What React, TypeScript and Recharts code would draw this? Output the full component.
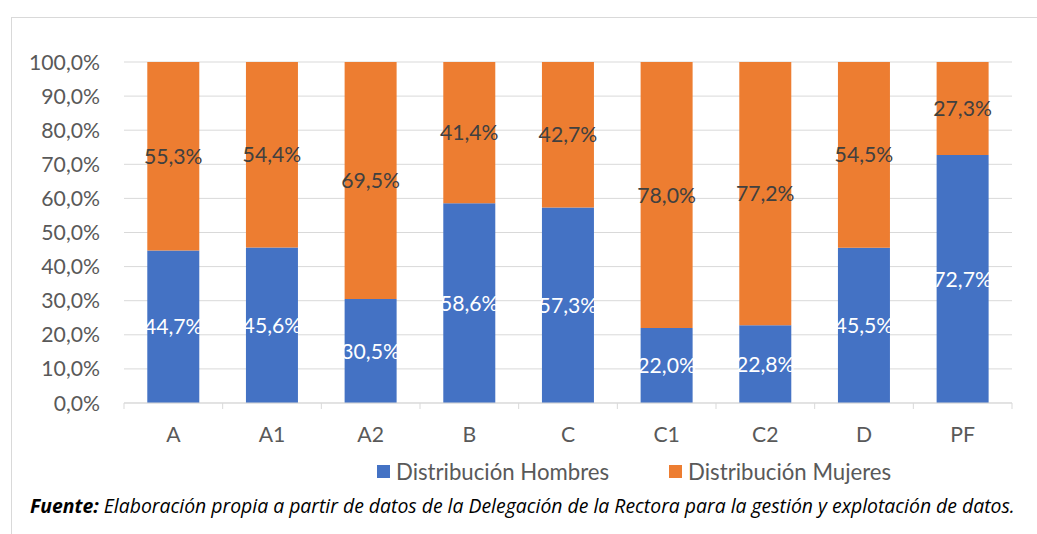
import React from 'react';
import { BarChart, Bar, XAxis, YAxis, CartesianGrid, Legend, LabelList } from 'recharts';

const categories = ['A', 'A1', 'A2', 'B', 'C', 'C1', 'C2', 'D', 'PF'];
const hombres = [44.7, 45.6, 30.5, 58.6, 57.3, 22.0, 22.8, 45.5, 72.7];
const mujeres = [55.3, 54.4, 69.5, 41.4, 42.7, 78.0, 77.2, 54.5, 27.3];
const yTicks = [0, 10, 20, 30, 40, 50, 60, 70, 80, 90, 100];
const seriesNames = ['Distribución Hombres', 'Distribución Mujeres'];
const colors = ['#4472C4', '#ED7D31'];

const data = categories.map((c, i) => ({ cat: c, h: hombres[i], m: mujeres[i] }));

const FONT = 'Lato, "Open Sans", sans-serif';
const fmt = (v: any) => Number(v).toFixed(1).replace('.', ',') + '%';

const XTick = (props: any) => {
  const { x, y, payload, index, visibleTicksCount } = props;
  const off = payload.offset || 0;
  const isLast = index === visibleTicksCount - 1;
  return (
    <g>
      <line x1={x - off} x2={x - off} y1={y - 8} y2={y - 2} stroke="#d9d9d9" strokeWidth={1} />
      {isLast && <line x1={x + off} x2={x + off} y1={y - 8} y2={y - 2} stroke="#d9d9d9" strokeWidth={1} />}
      <text x={x} y={y + 31} textAnchor="middle" fill="#595959" fontSize={21.2} fontFamily={FONT}>
        {payload.value}
      </text>
    </g>
  );
};

const LegendContent = () => (
  <div style={{ display: 'flex', fontFamily: FONT, fontSize: 22.2, color: '#595959', alignItems: 'center' }}>
    {seriesNames.map((n, i) => (
      <div key={n} style={{ display: 'flex', alignItems: 'center', marginRight: i === 0 ? 60 : 0 }}>
        <div style={{ width: 13, height: 13, background: colors[i], marginRight: 6 }} />
        <span>{n}</span>
      </div>
    ))}
  </div>
);

export default function App() {
  return (
    <div style={{ position: 'absolute', left: 0, top: 0, width: 1037, height: 534, background: '#fff', overflow: 'hidden' }}>
      <div style={{ position: 'absolute', left: 11, top: 17, width: 1030, height: 530, borderLeft: '1px solid #d9d9d9', borderTop: '1px solid #d9d9d9' }} />
      <div style={{ position: 'absolute', left: 0, top: 0 }}>
        <BarChart
          width={1037}
          height={534}
          data={data}
          margin={{ top: 62, right: 25, left: 0, bottom: 64 }}
          barCategoryGap="23.6%"
        >
          <CartesianGrid vertical={false} stroke="#d9d9d9" strokeWidth={1} />
          <XAxis
            dataKey="cat"
            axisLine={{ stroke: '#d9d9d9' }}
            tickLine={false}
            tick={<XTick />}
            interval={0}
            height={40}
          />
          <YAxis
            width={124}
            domain={[0, 100]}
            ticks={yTicks}
            axisLine={false}
            tickLine={false}
            tickMargin={18}
            tickFormatter={fmt}
            tick={{ fill: '#595959', fontSize: 21.2, fontFamily: FONT }}
            interval={0}
          />
          <Legend
            verticalAlign="bottom"
            content={<LegendContent />}
            wrapperStyle={{ left: 377, top: 458, width: 600, bottom: 'auto' }}
          />
          <Bar dataKey="h" name={seriesNames[0]} stackId="s" fill={colors[0]} isAnimationActive={false}>
            <LabelList dataKey="h" position="center" formatter={fmt} fill="#ffffff" fontSize={21.2} fontFamily={FONT} />
          </Bar>
          <Bar dataKey="m" name={seriesNames[1]} stackId="s" fill={colors[1]} isAnimationActive={false}>
            <LabelList dataKey="m" position="center" formatter={fmt} fill="#404040" fontSize={21.2} fontFamily={FONT} />
          </Bar>
        </BarChart>
      </div>
      <div style={{ position: 'absolute', left: 30, top: 492, fontFamily: '"Open Sans", sans-serif', fontSize: 19.4, fontStyle: 'italic', color: '#000', whiteSpace: 'nowrap' }}>
        <b>Fuente:</b> Elaboración propia a partir de datos de la Delegación de la Rectora para la gestión y explotación de datos.
      </div>
    </div>
  );
}
